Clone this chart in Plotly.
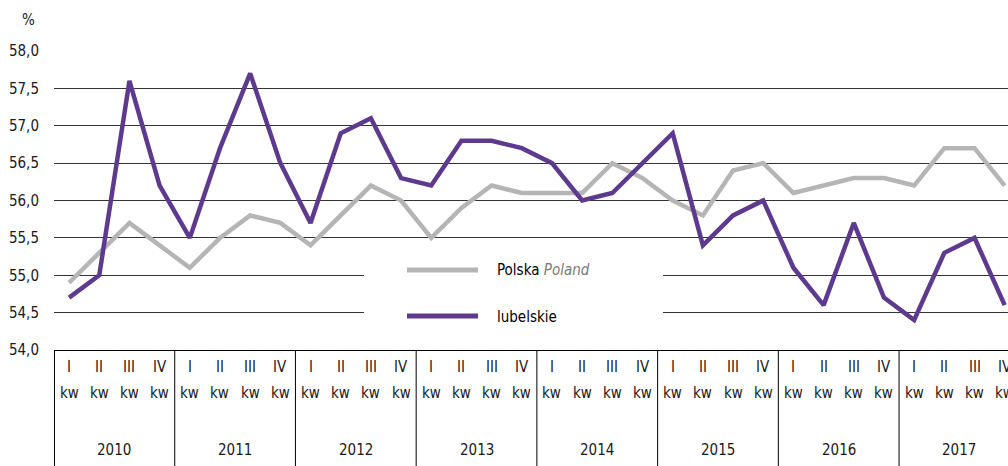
import plotly.graph_objects as go

# ---- data ----
years = ["2010", "2011", "2012", "2013", "2014", "2015", "2016", "2017"]
quarters = ["I", "II", "III", "IV"]
quarter_suffix = "kw"

polska = [54.9, 55.3, 55.7, 55.4,
          55.1, 55.5, 55.8, 55.7,
          55.4, 55.8, 56.2, 56.0,
          55.5, 55.9, 56.2, 56.1,
          56.1, 56.1, 56.5, 56.3,
          56.0, 55.8, 56.4, 56.5,
          56.1, 56.2, 56.3, 56.3,
          56.2, 56.7, 56.7, 56.2]

lubelskie = [54.7, 55.0, 57.6, 56.2,
             55.5, 56.7, 57.7, 56.5,
             55.7, 56.9, 57.1, 56.3,
             56.2, 56.8, 56.8, 56.7,
             56.5, 56.0, 56.1, 56.5,
             56.9, 55.4, 55.8, 56.0,
             55.1, 54.6, 55.7, 54.7,
             54.4, 55.3, 55.5, 54.6]

y_ticks = [54.0, 54.5, 55.0, 55.5, 56.0, 56.5, 57.0, 57.5, 58.0]
y_tick_labels = [f"{v:.1f}".replace(".", ",") for v in y_ticks]
unit_label = "%"
series_names = ["Polska", "Poland", "lubelskie"]

# ---- styling ----
FONT = "Liberation Sans Narrow, DejaVu Sans Condensed, Arial Narrow, sans-serif"
GRAY = "#b5b5b5"
PURPLE = "#5d3a8e"
TEXT = "#1a1a1a"
FS = 15

n = len(polska)
x = list(range(n))
q_labels = [quarters[i % 4] for i in x]

fig = go.Figure()
fig.add_trace(go.Scatter(x=x, y=polska, mode="lines", name="Polska Poland",
                         line=dict(color=GRAY, width=4.5), showlegend=False))
fig.add_trace(go.Scatter(x=x, y=lubelskie, mode="lines", name="lubelskie",
                         line=dict(color=PURPLE, width=4.5), showlegend=False))

W, H = 1008, 466
ML, MR, MT, MB = 54, 0, 51, 116
pw = W - ML - MR
ph = H - MT - MB


def px_x(px):
    return (px - ML) / pw


def px_y(py):
    return (H - MB - py) / ph


annotations = []
# quarter labels
for i in x:
    annotations.append(dict(x=i, y=0, xref="x", yref="paper", text=q_labels[i],
                            showarrow=False, yanchor="middle", yshift=-17,
                            font=dict(size=FS, color=TEXT)))
    annotations.append(dict(x=i, y=0, xref="x", yref="paper", text=quarter_suffix,
                            showarrow=False, yanchor="middle", yshift=-43,
                            font=dict(size=FS, color=TEXT)))
# years
for k, yr in enumerate(years):
    annotations.append(dict(x=4 * k + 1.5, y=0, xref="x", yref="paper", text=yr,
                            showarrow=False, yanchor="middle", yshift=-100,
                            font=dict(size=FS, color=TEXT)))
# unit
annotations.append(dict(x=px_x(28), y=px_y(20), xref="paper", yref="paper",
                        text=unit_label, showarrow=False, xanchor="center",
                        yanchor="middle", font=dict(size=FS, color=TEXT)))
# legend texts
annotations.append(dict(x=px_x(495), y=px_y(270), xref="paper", yref="paper",
                        text=f"{series_names[0]} <i><span style='color:#7a7a7a'>{series_names[1]}</span></i>",
                        showarrow=False, xanchor="left", yanchor="middle",
                        font=dict(size=FS, color="#000000")))
annotations.append(dict(x=px_x(495), y=px_y(317), xref="paper", yref="paper",
                        text=series_names[2], showarrow=False, xanchor="left",
                        yanchor="middle", font=dict(size=FS, color="#000000")))

shapes = []
# left border of category box
shapes.append(dict(type="line", xref="paper", yref="paper", x0=0.0005, x1=0.0005, y0=0, y1=-0.6,
                   line=dict(color="black", width=1)))
# year separators
for k in range(1, len(years)):
    shapes.append(dict(type="line", xref="x", yref="paper", x0=4 * k - 0.5, x1=4 * k - 0.5,
                       y0=0, y1=-0.6, line=dict(color="black", width=1)))
# legend box and samples
shapes.append(dict(type="rect", xref="paper", yref="paper", x0=px_x(364), x1=px_x(663),
                   y0=px_y(335), y1=px_y(246), fillcolor="white", line=dict(width=0),
                   layer="above"))
shapes.append(dict(type="line", xref="paper", yref="paper", x0=px_x(407), x1=px_x(478),
                   y0=px_y(270), y1=px_y(270), line=dict(color=GRAY, width=5),
                   layer="above"))
shapes.append(dict(type="line", xref="paper", yref="paper", x0=px_x(407), x1=px_x(478),
                   y0=px_y(316), y1=px_y(316), line=dict(color=PURPLE, width=5),
                   layer="above"))

fig.update_layout(
    width=W, height=H,
    margin=dict(l=ML, r=MR, t=MT, b=MB, pad=0),
    plot_bgcolor="white", paper_bgcolor="white",
    showlegend=False,
    font=dict(family=FONT, size=FS, color=TEXT),
    xaxis=dict(range=[-0.5, 31.11], showgrid=False, showticklabels=False,
               zeroline=False, showline=True, linecolor="black", linewidth=1,
               ticks="", fixedrange=True),
    yaxis=dict(range=[54, 58], tickvals=y_ticks, ticktext=y_tick_labels,
               showgrid=True, gridcolor="#333333", gridwidth=1, zeroline=False,
               showline=False, ticks="", ticklabelstandoff=14,
               tickfont=dict(size=FS, color=TEXT), fixedrange=True),
    annotations=annotations,
    shapes=shapes,
)

fig.write_html(
    "out.html",
    config={"displayModeBar": False},
    post_script="document.body.style.margin='0px';document.body.style.overflow='hidden';",
)
